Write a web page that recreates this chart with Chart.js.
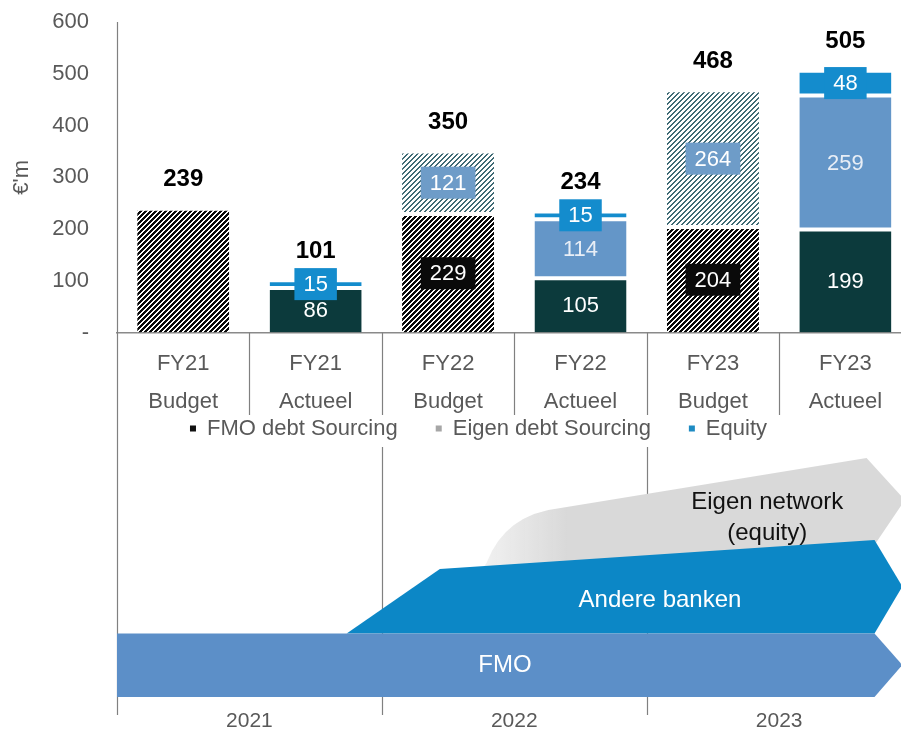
<!DOCTYPE html>
<html><head><meta charset="utf-8">
<script src="https://cdn.jsdelivr.net/npm/chart.js@4.4.1/dist/chart.umd.min.js"></script>
<style>html,body{margin:0;padding:0;background:#fff;overflow:hidden}canvas{display:block}</style>
</head><body>
<canvas id="c" width="901" height="733"></canvas>
<script>
// ---- data ----
const categories = [['FY21','Budget'],['FY21','Actueel'],['FY22','Budget'],['FY22','Actueel'],['FY23','Budget'],['FY23','Actueel']];
const isBudget = [true,false,true,false,true,false];
const fmoDebt = [239,86,229,105,204,199];
const eigenDebt = [0,0,121,114,264,259];
const equity = [0,15,0,15,0,48];
const totals = [239,101,350,234,468,505];
const yTicks = [0,100,200,300,400,500,600];
const years = ['2021','2022','2023'];
const seriesNames = ['FMO debt Sourcing','Eigen debt Sourcing','Equity'];
const flowNames = ['FMO','Andere banken','Eigen network','(equity)'];

// ---- styles ----
const FONT = "'Liberation Sans', Arial, sans-serif";
Chart.defaults.font.family = FONT;
const GREY = '#595959';
const colors = {fmo:'#0c3a3c', eigen:'#6496c8', equity:'#148ccd'};
const legendColors = ['#111111','#a6a6a6','#1e8bc3'];

function hatch(color, period, dark){
  const c = document.createElement('canvas');
  c.width = period; c.height = period;
  const g = c.getContext('2d');
  g.fillStyle = '#fff'; g.fillRect(0,0,period,period);
  g.fillStyle = color;
  for (let i = 0; i < period; i++)
    for (let j = 0; j < period; j++)
      if ((i + j) % period < dark) g.fillRect(i, j, 1, 1);
  return document.getElementById('c').getContext('2d').createPattern(c,'repeat');
}
const fmoHatch = hatch('#0a0a0a', 5, 3);
const eigenHatch = hatch('#3f6b75', 5, 2);

const toXY = arr => arr.map((v,i)=>({x:i, y:v}));

const legendShift = {
  id:'legendShift',
  afterLayout(chart){
    const L = chart.legend;
    if (L){ L.left += 28; L.right += 28; L.top -= 38; L.bottom -= 38; }
  }
};

const valueLabels = {
  id:'valueLabels',
  afterDatasetsDraw(chart){
    const ctx = chart.ctx;
    const metas = [0,1,2].map(i=>chart.getDatasetMeta(i));
    ctx.save();
    ctx.textAlign = 'center'; ctx.textBaseline = 'middle';
    const label = (bar, value, boxColor, textColor) => {
      const cy = (bar.y + bar.base)/2;
      ctx.font = '22px ' + FONT;
      if (boxColor){
        const w = ctx.measureText(String(value)).width + 18;
        ctx.fillStyle = boxColor;
        ctx.fillRect(bar.x - w/2, cy - 16, w, 32);
      }
      ctx.fillStyle = textColor;
      ctx.fillText(String(value), bar.x, cy + 1);
    };
    categories.forEach((c,i)=>{
      const b = metas.map(m=>m.data[i]);
      if (fmoDebt[i] !== totals[i]) label(b[0], fmoDebt[i], isBudget[i] ? '#0a0a0a' : null, '#ffffff');
      if (eigenDebt[i] > 0) label(b[1], eigenDebt[i], isBudget[i] ? '#6e9cc8' : null, isBudget[i] ? '#ffffff' : '#e8eef6');
      if (equity[i] > 0) label(b[2], equity[i], colors.equity, '#ffffff');
      const top = Math.min(b[0].y, b[1].y, b[2].y);
      ctx.font = 'bold 24px ' + FONT;
      ctx.fillStyle = '#000';
      ctx.fillText(String(totals[i]), b[0].x, top - 29);
    });
    ctx.restore();
  }
};

const flow = {
  id:'flow',
  afterDraw(chart){
    const {ctx, chartArea:ca, scales:{x}} = chart;
    const px = v => x.getPixelForValue(v);
    ctx.save();
    const line = (x1,y1,x2,y2) => { ctx.beginPath(); ctx.moveTo(x1,y1); ctx.lineTo(x2,y2); ctx.stroke(); };
    ctx.strokeStyle = '#808080'; ctx.lineWidth = 1.2;
    for (let k = 0; k < categories.length - 1; k++){
      const xx = Math.round(px(k + 0.5)) + 0.5;
      line(xx, ca.bottom, xx, 415);
      if (k % 2 === 1) line(xx, 447, xx, 715);
    }
    line(ca.left + 0.5, ca.top, ca.left + 0.5, 715);

    // grey "Eigen network" band
    const g = ctx.createLinearGradient(px(2.25), 0, px(2.9), 0);
    g.addColorStop(0, 'rgba(217,217,217,0.35)');
    g.addColorStop(1, 'rgba(217,217,217,1)');
    ctx.fillStyle = g;
    ctx.beginPath();
    ctx.moveTo(px(2.2), 580);
    ctx.lineTo(px(2.29), 563);
    ctx.quadraticCurveTo(px(2.43), 514, px(2.85), 508);
    ctx.lineTo(px(5.16), 458);
    ctx.lineTo(px(5.45), 500);
    ctx.lineTo(px(5.22), 545);
    ctx.lineTo(px(2.2), 580);
    ctx.closePath(); ctx.fill();

    // "Andere banken" band
    ctx.fillStyle = '#0c87c6';
    ctx.beginPath();
    ctx.moveTo(px(1.234), 633.5);
    ctx.lineTo(px(1.938), 569);
    ctx.lineTo(px(5.22), 540);
    ctx.lineTo(px(5.43), 586.5);
    ctx.lineTo(px(5.22), 633.5);
    ctx.closePath(); ctx.fill();

    // "FMO" band
    ctx.fillStyle = '#5c8fc8';
    ctx.beginPath();
    ctx.moveTo(px(-0.5), 633.5);
    ctx.lineTo(px(5.22), 633.5);
    ctx.lineTo(px(5.43), 665);
    ctx.lineTo(px(5.22), 697);
    ctx.lineTo(px(-0.5), 697);
    ctx.closePath(); ctx.fill();

    ctx.textAlign = 'center'; ctx.textBaseline = 'middle';
    ctx.font = '24px ' + FONT;
    ctx.fillStyle = '#ffffff';
    ctx.fillText(flowNames[0], px(2.43), 665);
    ctx.fillText(flowNames[1], px(3.6), 600);
    ctx.fillStyle = '#111111';
    ctx.fillText(flowNames[2], px(4.41), 502);
    ctx.fillText(flowNames[3], px(4.41), 533);

    ctx.font = '21px ' + FONT;
    ctx.fillStyle = GREY;
    years.forEach((y,j)=> ctx.fillText(y, px(2*j + 0.5), 721));
    ctx.restore();
  }
};

new Chart(document.getElementById('c'), {
  type:'bar',
  data:{
    datasets:[
      {label:seriesNames[0], data:toXY(fmoDebt),
       backgroundColor: c => isBudget[c.dataIndex] ? fmoHatch : colors.fmo,
       borderColor:'#fff', borderWidth:{top:2,bottom:0,left:0,right:0}, borderSkipped:false},
      {label:seriesNames[1], data:toXY(eigenDebt),
       backgroundColor: c => isBudget[c.dataIndex] ? eigenHatch : colors.eigen,
       borderColor:'#fff', borderWidth:{top:2,bottom:2,left:0,right:0}, borderSkipped:false},
      {label:seriesNames[2], data:toXY(equity),
       backgroundColor: colors.equity,
       borderColor:'#fff', borderWidth:{top:2,bottom:2,left:0,right:0}, borderSkipped:false}
    ]
  },
  options:{
    responsive:false, animation:false, events:[],
    layout:{padding:{top:22,right:0,bottom:245.5,left:0}},
    datasets:{bar:{categoryPercentage:1, barPercentage:0.695}},
    scales:{
      x:{type:'linear', min:-0.5, max:5.42, offset:false, stacked:true,
         grid:{display:false, offset:false}, border:{display:true,color:'#8a8a8a',width:1.5},
         afterBuildTicks: s => { s.ticks = categories.map((c,i)=>({value:i})); },
         afterFit: s => { s.height = 85; s.paddingLeft = 0; s.paddingRight = 0; },
         ticks:{callback: v => categories[v], color:GREY, font:{size:22, lineHeight:1.75}, padding:4, maxRotation:0, autoSkip:false}},
      y:{min:0, max:600, stacked:true,
         grid:{display:false}, border:{display:false},
         afterBuildTicks: s => { s.ticks = yTicks.map(v=>({value:v})); },
         afterFit: s => { s.width = 117; s.paddingTop = 0; s.paddingBottom = 0; },
         ticks:{callback: v => v === 0 ? '-' : String(v), color:GREY, font:{size:22}, padding:20},
         title:{display:true, text:"€'m", color:GREY, font:{size:22}, padding:{top:9,bottom:0}}}
    },
    plugins:{
      tooltip:{enabled:false},
      legend:{position:'bottom',
        labels:{boxWidth:6, boxHeight:6, padding:38, color:GREY, font:{size:22},
          generateLabels: () => seriesNames.map((t,i)=>({text:t, fillStyle:legendColors[i], strokeStyle:legendColors[i], lineWidth:0, hidden:false, datasetIndex:i, fontColor:GREY}))}}
    }
  },
  plugins:[legendShift, valueLabels, flow]
});
</script>
</body></html>
